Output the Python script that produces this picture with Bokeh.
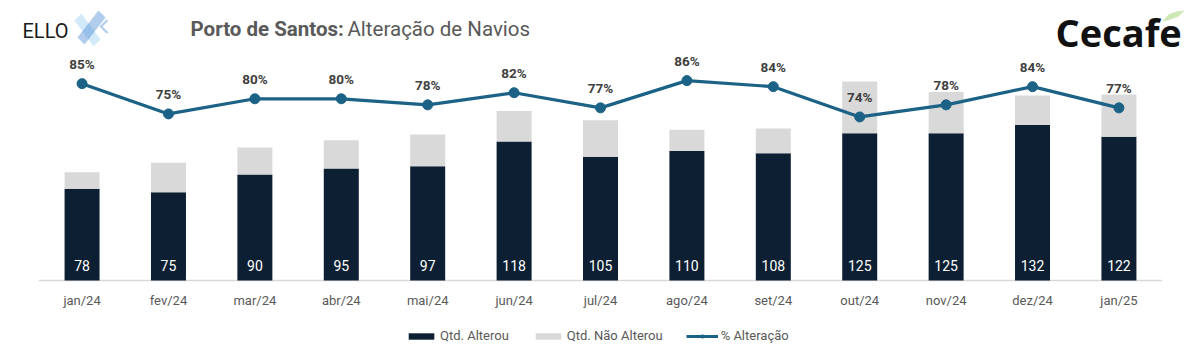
from bokeh.plotting import figure
from bokeh.models import (ColumnDataSource, Range1d, Legend, LegendItem, Label,
                          PolyAnnotation)
from bokeh.core.properties import value
from bokeh.embed import file_html
from bokeh.resources import INLINE

months = ["jan/24", "fev/24", "mar/24", "abr/24", "mai/24", "jun/24", "jul/24",
          "ago/24", "set/24", "out/24", "nov/24", "dez/24", "jan/25"]
alterou = [78, 75, 90, 95, 97, 118, 105, 110, 108, 125, 125, 132, 122]
nao_alterou = [14, 25, 23, 24, 27, 26, 31, 18, 21, 44, 35, 25, 36]
pct_alteracao = [85, 75, 80, 80, 78, 82, 77, 86, 84, 74, 78, 84, 77]

DARK = "#0D1F33"
LIGHT = "#D9D9D9"
LINE = "#1B6286"
GRAY = "#595959"
FONT = "Roboto"

W, H = 1200, 357
TOP, BASE = 68, 280          # pixel rows of the value-axis top / baseline
PX_BAR = (BASE - TOP) / 180.0
PX_PCT = (BASE - TOP) / 70.0

src = ColumnDataSource(dict(
    month=months,
    alterou=alterou,
    nao=nao_alterou,
    pct=pct_alteracao,
    alt_lbl=[str(v) for v in alterou],
    pct_lbl=[f"{v}%" for v in pct_alteracao],
    zero=[0] * len(months),
))

y_bar = Range1d(-(H - BASE) / PX_BAR, 180 + TOP / PX_BAR)
p = figure(x_range=months, y_range=y_bar, width=W, height=H,
           output_backend="svg", toolbar_location=None,
           min_border=0, outline_line_color=None,
           background_fill_color="white", border_fill_color="white")
p.extra_y_ranges = {"pct": Range1d(20 - (H - BASE) / PX_PCT, 90 + TOP / PX_PCT)}
p.x_range.range_padding = 0.444
p.x_range.range_padding_units = "absolute"
p.axis.visible = False
p.grid.grid_line_color = None

# baseline (category axis line)
p.segment(x0=[(months[0], -0.5)], x1=[(months[-1], 0.5)], y0=[0], y1=[0],
          line_color=LIGHT, line_width=1.5)

bars = p.vbar_stack(["alterou", "nao"], x="month", width=0.405, source=src,
                    color=[DARK, LIGHT], line_color=None)

ln = p.line(x="month", y="pct", source=src, y_range_name="pct",
            line_color=LINE, line_width=3.2)
pts = p.scatter(x="month", y="pct", source=src, y_range_name="pct",
                size=10, fill_color=LINE, line_color=LINE)

p.text(x="month", y="zero", text="alt_lbl", source=src, text_align="center",
       text_baseline="middle", y_offset=-15, text_color="white",
       text_font=value(FONT), text_font_size="14px")
p.text(x="month", y="pct", text="pct_lbl", source=src, y_range_name="pct",
       text_align="center", text_baseline="middle", y_offset=-20,
       text_color="#404040", text_font=value(FONT), text_font_size="13.5px",
       text_font_style="bold")
# category labels
p.text(x="month", y="zero", text="month", source=src, text_align="center",
       text_baseline="middle", y_offset=20, text_color=GRAY,
       text_font=value(FONT), text_font_size="13px")

legend = Legend(items=[
    LegendItem(label="Qtd. Alterou", renderers=[bars[0]]),
    LegendItem(label="Qtd. Não Alterou", renderers=[bars[1]]),
    LegendItem(label="% Alteração", renderers=[ln, pts]),
], orientation="horizontal", location=(405, 14), glyph_width=32,
    glyph_height=8, label_text_font=FONT, label_text_font_size="13px",
    label_text_color=GRAY, spacing=23, label_standoff=3, padding=0,
    border_line_color=None, background_fill_alpha=0)
p.add_layout(legend, "center")

# Title
p.add_layout(Label(x=190, y=H - 28, x_units="screen", y_units="screen",
                   text="Porto de Santos:", text_font=FONT,
                   text_font_size="20.5px", text_font_style="bold",
                   text_color=GRAY, text_baseline="middle"))
p.add_layout(Label(x=347, y=H - 28, x_units="screen", y_units="screen",
                   text="Alteração de Navios", text_font=FONT,
                   text_font_size="20.5px", text_color=GRAY,
                   text_baseline="middle"))

# ELLO logo
p.add_layout(Label(x=22, y=H - 30, x_units="screen", y_units="screen",
                   text="ELLO", text_font=FONT, text_font_size="20px",
                   text_color="#1A1A1A", text_baseline="middle"))
p.add_layout(PolyAnnotation(xs=[74, 81, 100, 93], ys=[H - 20, H - 13, H - 39, H - 46],
                            xs_units="screen", ys_units="screen",
                            fill_color="#8FCBF2", line_color=None))
p.add_layout(PolyAnnotation(xs=[98, 105, 84, 77], ys=[H - 10, H - 17, H - 44, H - 37],
                            xs_units="screen", ys_units="screen",
                            fill_color="#3D7FD1", line_color=None))
p.add_layout(PolyAnnotation(xs=[108, 102, 108, 106, 99, 106],
                            ys=[H - 20, H - 26, H - 32, H - 33, H - 26, H - 19],
                            xs_units="screen", ys_units="screen",
                            fill_color="#3D7FD1", line_color=None))

# Cecafe logo
p.add_layout(Label(x=1055, y=H - 31, x_units="screen", y_units="screen",
                   text="Cecafe", text_font="Open Sans", text_font_size="38px",
                   text_font_style="bold", text_color="#111111",
                   text_baseline="middle"))
p.add_layout(PolyAnnotation(xs=[1162, 1168, 1176, 1184, 1178, 1170],
                            ys=[H - 21, H - 14, H - 11, H - 10, H - 16, H - 19],
                            xs_units="screen", ys_units="screen",
                            fill_color="#7DC242", line_color=None))

open("out.html", "w").write(file_html(p, INLINE))
